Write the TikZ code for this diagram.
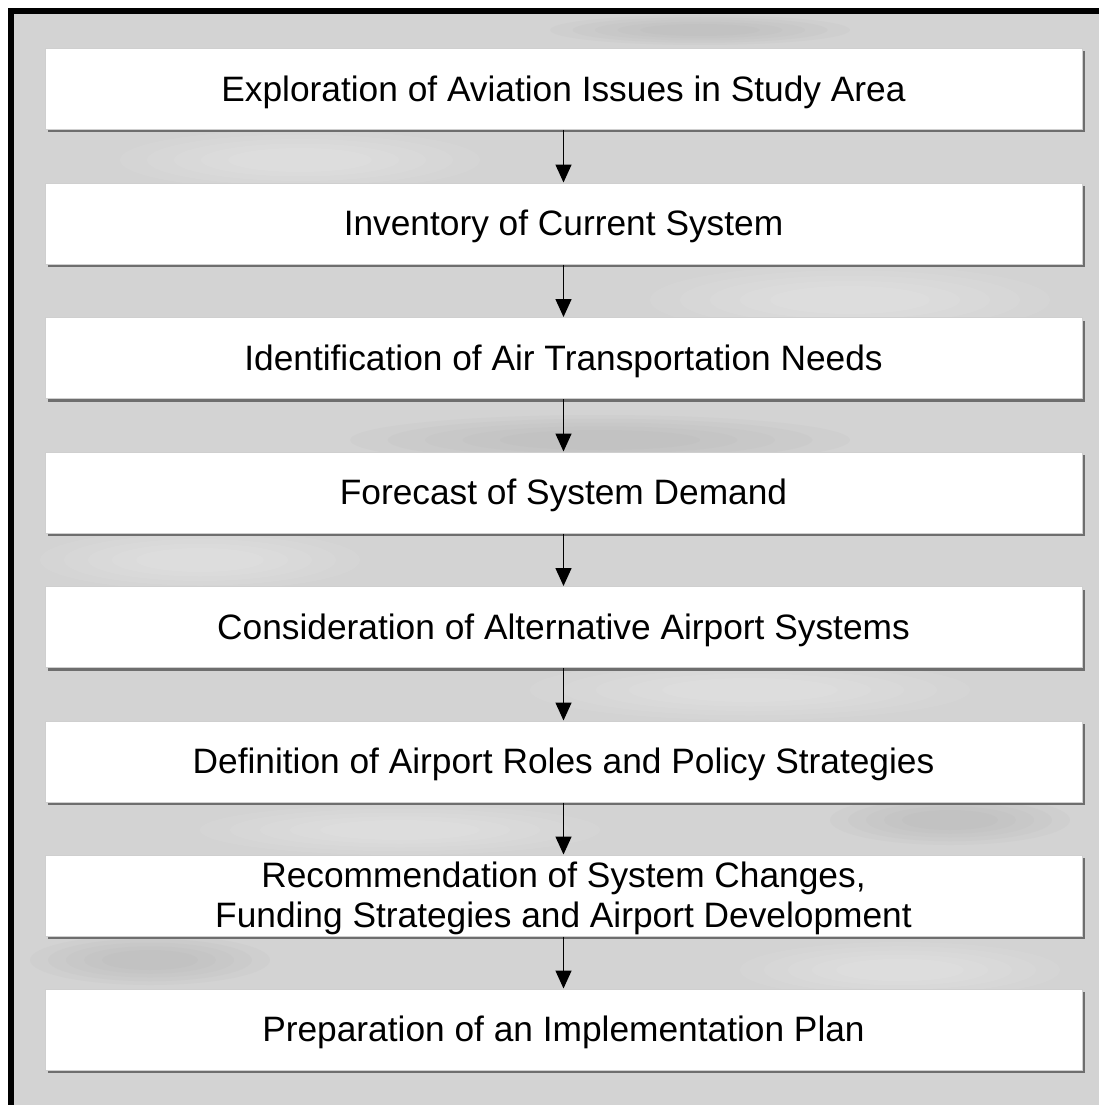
\documentclass[tikz,border=0pt]{standalone}
\usepackage{fontspec}
\setmainfont{Liberation Sans}
\usetikzlibrary{arrows.meta,shadows}
\definecolor{bggray}{HTML}{D3D3D3}
\definecolor{boxedge}{HTML}{CFCFCF}
\definecolor{shadowgray}{HTML}{6E6E6E}
\definecolor{cloudlight}{HTML}{FFFFFF}
\definecolor{clouddark}{HTML}{9A9A9A}
\begin{document}
\begin{tikzpicture}[x=1pt,y=-1pt,
  steptext/.style={align=center, inner sep=0pt, yshift=-3pt,
    font=\fontsize{35.3}{40.5}\selectfont},
  stepbox/.style={draw=boxedge, line width=1pt, fill=white,
    minimum width=1037pt, minimum height=81pt, inner sep=0pt,
    drop shadow={shadow xshift=3pt, shadow yshift=-3pt, fill=shadowgray, opacity=1},
    label={[steptext]center:#1}},
  flow/.style={line width=1.5pt, -{Triangle[width=16pt,length=18pt]}},
  cloud/.style={opacity=0.06}]
\useasboundingbox (0,0) rectangle (1099,1105);
\fill[white] (0,0) rectangle (1099,1105);
\fill[bggray] (8,8) rectangle (1099,1105);
% faint cloud texture
\foreach \cx/\cy/\rx/\ry/\c in {300/160/180/30/cloudlight, 850/300/200/35/cloudlight, 200/560/160/30/cloudlight,
  750/690/220/30/cloudlight, 400/830/200/25/cloudlight, 900/970/160/28/cloudlight,
  600/440/250/25/clouddark, 150/960/120/25/clouddark, 950/820/120/25/clouddark, 700/30/150/15/clouddark}
  \foreach \k in {1,0.85,0.7,0.55,0.4}
    \fill[\c, cloud] (\cx,\cy) ellipse ({\rx*\k} and {\ry*\k});
\draw[line width=6pt] (10.5,1105) -- (10.5,11) -- (1099,11);
\node[stepbox={Exploration of Aviation Issues in Study Area}] (b1) at (563.5,89) {};
\node[stepbox={Inventory of Current System}] (b2) at (563.5,223.5) {};
\node[stepbox={Identification of Air Transportation Needs}] (b3) at (563.5,358) {};
\node[stepbox={Forecast of System Demand}] (b4) at (563.5,492.5) {};
\node[stepbox={Consideration of Alternative Airport Systems}] (b5) at (563.5,627) {};
\node[stepbox={Definition of Airport Roles and Policy Strategies}] (b6) at (563.5,761.5) {};
\node[stepbox={Recommendation of System Changes,\\Funding Strategies and Airport Development}] (b7) at (563.5,895.5) {};
\node[stepbox={Preparation of an Implementation Plan}] (b8) at (563.5,1029.5) {};
\foreach \a/\b in {b1/b2,b2/b3,b3/b4,b4/b5,b5/b6,b6/b7,b7/b8}
  \draw[flow] (\a.south) -- (\b.north);
\end{tikzpicture}
\end{document}
